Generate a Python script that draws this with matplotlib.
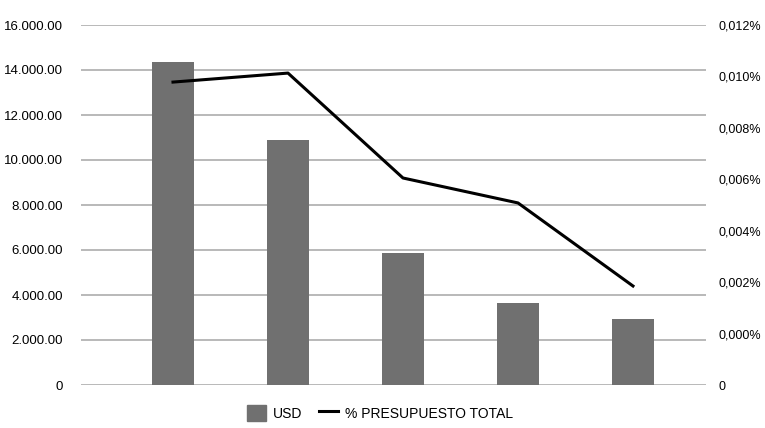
import numpy as np
import matplotlib
matplotlib.use("Agg")
import matplotlib.pyplot as plt
from matplotlib.patches import Patch
from matplotlib.lines import Line2D

# data
categories = ["A", "B", "C", "D", "E"]
usd = [14350, 10890, 5870, 3650, 2930]
# line values on the right-hand axis scale
pct_total = [0.01178, 0.01213, 0.00805, 0.00708, 0.00385]

left_ticks = [0, 2000, 4000, 6000, 8000, 10000, 12000, 14000, 16000]
right_ticks = [0, 0.002, 0.004, 0.006, 0.008, 0.010, 0.012, 0.014]
right_labels = ["0", "0,000%", "0,002%", "0,004%", "0,006%", "0,008%", "0,010%", "0,012%"]

plt.rcParams["font.family"] = ["Liberation Sans", "DejaVu Sans"]

fig = plt.figure(figsize=(7.65, 4.28), dpi=100)
ax = fig.add_axes([81 / 765, 1 - 385 / 428, 625 / 765, 360 / 428])
x = np.arange(len(categories))

ax.bar(x, usd, width=0.36, color="#707070", zorder=2)
ax.set_ylim(0, 16000)
ax.set_xlim(-0.8, 4.635)
ax.set_yticks(left_ticks)
ax.set_yticklabels(["0" if v == 0 else f"{v:,.2f}".replace(",", ".") for v in left_ticks])
ax.yaxis.grid(True, color="#a6a6a6", linewidth=1.1, zorder=0)
ax.set_xticks([])
ax.tick_params(axis="y", length=0, pad=13, labelsize=9.5)
for s in ax.spines.values():
    s.set_visible(False)

ax2 = ax.twinx()
ax2.plot(x, pct_total, color="black", linewidth=2.2, zorder=3)
ax2.set_ylim(0, 0.014)
ax2.set_yticks(right_ticks)
ax2.set_yticklabels(right_labels)
ax2.tick_params(axis="y", length=0, pad=9, labelsize=9)
for s in ax2.spines.values():
    s.set_visible(False)

handles = [Patch(color="#707070"), Line2D([0], [0], color="black", linewidth=2.2)]
fig.legend(handles, ["USD", "% PRESUPUESTO TOTAL"], loc="center",
           bbox_to_anchor=(380 / 765, 1 - 413 / 428), ncol=2, frameon=False,
           fontsize=10, handlelength=1.4, handleheight=1.4, columnspacing=1.2,
           handletextpad=0.5)

fig.savefig("out.png", dpi=100)
